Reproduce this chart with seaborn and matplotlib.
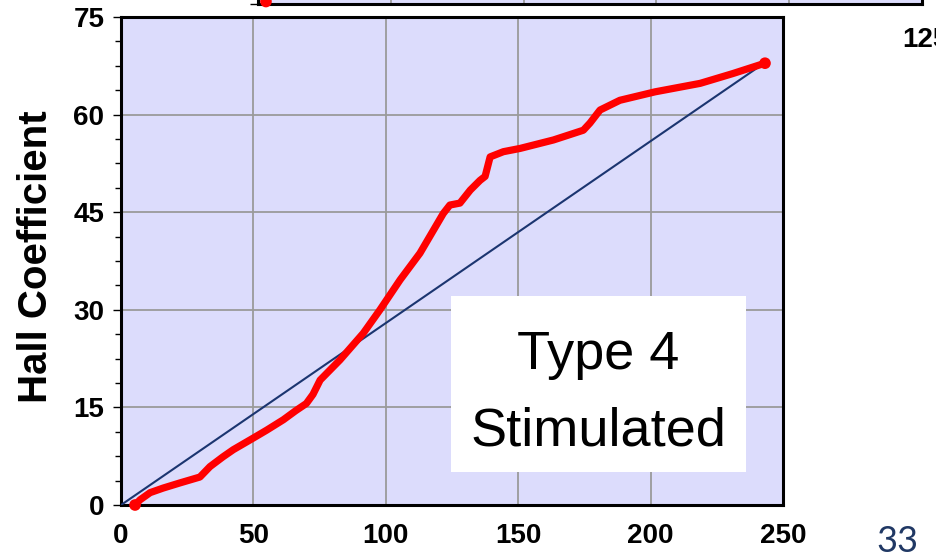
import matplotlib
matplotlib.use("Agg")
import matplotlib.pyplot as plt
from matplotlib.patches import Rectangle
from matplotlib.ticker import MultipleLocator
import pandas as pd
import seaborn as sns

# Measured Hall coefficient versus applied field
field = [5.3, 7.2, 11.0, 15.9, 22.3, 29.8, 33.6, 38.5, 42.4, 50.0, 55.0, 61.3,
         66.0, 70.0, 72.5, 75.2, 82.7, 91.5, 97.8, 105.4, 112.9, 121.7, 124.2,
         128.0, 131.9, 135.6, 137.5, 139.4, 144.4, 150.7, 163.3, 174.6, 177.1,
         180.9, 188.4, 201.7, 218.7, 231.0, 243.2]
hall = [0.0, 0.8, 1.9, 2.6, 3.4, 4.3, 5.9, 7.4, 8.5, 10.3, 11.5, 13.1,
        14.5, 15.6, 17.0, 19.2, 22.3, 26.4, 30.0, 34.6, 38.7, 44.8, 46.1,
        46.4, 48.4, 49.9, 50.5, 53.5, 54.3, 54.8, 56.1, 57.6, 58.7,
        60.7, 62.2, 63.5, 64.8, 66.3, 67.9]

# Straight reference line from the origin to the final point
ref_field = [0.0, 243.2]
ref_hall = [0.0, 68.0]

# Start of the trace in the panel above
upper_field = [3.0]
upper_hall = [0.3]

x_ticks = [0, 50, 100, 150, 200, 250]
y_ticks = [0, 15, 30, 45, 60, 75]
y_label = "Hall Coefficient"
box_lines = ["Type 4", "Stimulated"]
corner_label = "125"
page_number = "33"

sns.set_theme(style="whitegrid")
NARROW = ["Liberation Sans Narrow", "Liberation Sans", "DejaVu Sans"]
plt.rcParams["font.family"] = NARROW

W, H = 936, 556
fig = plt.figure(figsize=(W / 100, H / 100), dpi=100)
fig.patch.set_facecolor("white")


def px_box(left, top, right, bottom):
    return [left / W, 1 - bottom / H, (right - left) / W, (bottom - top) / H]


FACE = "#DCDCFC"
GRID = "#9A9A9A"
TICK_FS = 20


def style_axes(a):
    a.set_facecolor(FACE)
    a.set_xlim(0, 250)
    a.set_ylim(0, 75)
    a.set_xticks(x_ticks)
    a.set_yticks(y_ticks)
    a.yaxis.set_minor_locator(MultipleLocator(3.75))
    a.grid(True, which="major", color=GRID, lw=1.3)
    a.grid(False, which="minor")
    for s in a.spines.values():
        s.set_color("black")
        s.set_linewidth(2.2)
    a.tick_params(axis="x", length=0, pad=13)
    a.tick_params(axis="y", which="major", direction="out", length=6,
                  width=1.0, color="black", left=True, pad=6)
    a.tick_params(axis="y", which="minor", direction="out", length=4,
                  width=1.0, color="black", left=True)
    a.set_axisbelow(True)


# Panel above (only its lower edge falls inside the page)
ax_top = fig.add_axes(px_box(258, 3.5 - 488, 922, 3.5))
style_axes(ax_top)
ax_top.set_xticklabels([])
ax_top.set_yticklabels([])
sns.scatterplot(x=upper_field, y=upper_hall, ax=ax_top, color="red", s=70,
                edgecolor="none", clip_on=False, zorder=5)

# Main panel
ax = fig.add_axes(px_box(121, 17, 783, 505))
style_axes(ax)

df = pd.DataFrame({"field": field, "hall": hall})
sns.lineplot(x=ref_field, y=ref_hall, ax=ax, color="#1B3570", lw=1.5,
             zorder=3)
sns.lineplot(data=df, x="field", y="hall", ax=ax, color="#FF0000", lw=5.2,
             sort=False, estimator=None, zorder=4)
ends = df.iloc[[0, -1]]
sns.scatterplot(data=ends, x="field", y="hall", ax=ax, color="#FF0000", s=70,
                edgecolor="none", clip_on=False, zorder=5)

ax.set_xlabel("")
ax.set_xticklabels([str(v) for v in x_ticks], fontsize=TICK_FS,
                   fontweight="bold", color="black")
ax.set_yticklabels([str(v) for v in y_ticks], fontsize=TICK_FS,
                   fontweight="bold", color="black")

ax.set_ylabel(y_label, fontsize=29, fontweight="bold", color="black",
              va="center")
ax.yaxis.set_label_coords((36 - 121) / 662, (505 - 256.5) / 488)

# Annotation box
ax.add_patch(Rectangle((124.6, 5.1), 111.4, 27.0, facecolor="white",
                       edgecolor="none", zorder=6))
ax.text(180.3, 20.9, box_lines[0], ha="center", va="baseline", fontsize=39,
        color="black", zorder=7)
ax.text(180.3, 9.1, box_lines[1], ha="center", va="baseline", fontsize=39,
        color="black", zorder=7)

fig.text(902 / W, 1 - 46.7 / H, corner_label, ha="left", va="baseline",
         fontsize=TICK_FS, fontweight="bold", color="black")
fig.text(876 / W, 1 - 551.5 / H, page_number, ha="left", va="baseline",
         fontsize=26, color="#203864", family=["Lato", "DejaVu Sans"])

fig.savefig("out.png", dpi=100, facecolor="white")
